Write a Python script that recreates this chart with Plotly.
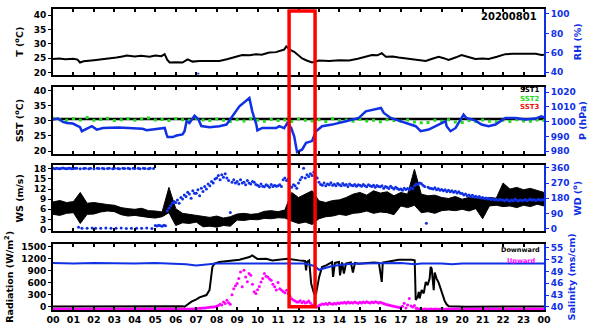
import numpy as np
import plotly.graph_objects as go

# ---------------- data ----------------
hour_labels = ["%02d" % h for h in range(24)] + ["00"]

# air temperature (deg C)
t_hour = [0.00, 0.30, 0.60, 1.00, 1.20, 1.32, 1.50, 1.66, 2.00, 2.40, 2.78, 3.10, 3.40, 3.60,
          4.00, 4.30, 4.72, 5.00, 5.30, 5.46, 5.58, 5.70, 6.00, 6.33, 6.58, 6.82, 7.16, 7.60,
          8.13, 8.50, 8.90, 9.25, 9.60, 9.94, 10.20, 10.57, 10.90, 11.15, 11.30, 11.40, 11.60,
          11.79, 12.00, 12.18, 12.40, 12.66, 13.00, 13.50, 14.00, 14.47, 14.90, 15.30, 15.59,
          15.85, 16.07, 16.27, 16.60, 16.90, 17.40, 17.88, 18.22, 18.50, 18.85, 19.10, 19.34,
          19.70, 19.97, 20.30, 20.65, 21.00, 21.29, 21.70, 22.11, 22.50, 23.00, 23.38, 23.60,
          23.87, 24.00]
air_temp = [24.7, 24.9, 24.6, 24.8, 24.5, 23.5, 23.9, 24.1, 24.3, 24.6, 24.8, 25.2, 25.6, 25.9,
            25.6, 25.8, 25.5, 25.9, 25.7, 26.4, 24.5, 23.5, 23.6, 23.5, 24.6, 23.8, 24.0, 23.9,
            24.0, 24.6, 25.4, 26.1, 26.0, 26.4, 26.2, 27.0, 27.1, 27.6, 28.0, 29.1, 27.9,
            27.2, 26.0, 24.9, 24.2, 23.5, 24.2, 24.0, 24.3, 24.2, 24.8, 25.4, 26.1,
            26.0, 26.7, 25.5, 25.6, 25.2, 24.8, 24.4, 24.0, 24.7, 25.5, 25.0, 24.4,
            25.3, 26.1, 25.4, 24.7, 24.9, 24.7, 25.5, 26.4, 26.5, 26.6, 26.7, 26.5,
            26.1, 26.2]

# relative humidity (%), only a single reading survives
rh_hour = [7.05, 7.15]
rel_hum = [38.5, 38.5]

# sea surface temperature (deg C)
sst1 = [30.6, 30.6, 30.6, 30.7, 30.6, 30.6, 30.6, 30.6, 30.6, 30.7, 30.6, 30.6, 30.6,
        30.6, 30.6, 30.6, 30.6, 30.6, 30.7, 30.6, 30.6, 30.6, 30.6, 30.6, 30.6]  # hourly
sst2 = [30.9, 30.4, 30.2, 30.8, 30.3, 31.1, 30.2, 30.5, 30.9, 30.1, 30.4, 30.8, 30.2, 30.6,
        31.0, 30.3, 30.5, 30.1, 30.8, 30.4, 30.2, 30.9, 30.3, 30.1, 30.6, 30.2, 29.8, 30.4,
        30.0, 30.7, 30.2, 29.9, 30.5, 30.1, 30.3, 29.8, 30.6, 30.2, 30.0, 30.4, 29.8, 30.7,
        30.1, 30.3, 29.9, 30.5, 30.0, 30.2, 29.7, 30.4, 30.1, 29.9, 30.3, 29.6, 29.4, 29.5,
        30.2, 29.9, 30.4, 29.6, 29.5, 30.1, 29.8, 30.3, 29.9, 29.7, 30.2, 29.8, 30.4, 30.0,
        29.9, 30.3, 30.1]  # every 20 min

# air pressure (hPa)
p_hour = [0.00, 0.24, 0.49, 0.68, 0.97, 1.32, 1.41, 1.56, 1.90, 2.14, 2.44, 3.20, 3.90, 4.38,
          4.58, 5.07, 5.46, 5.55, 5.60, 5.85, 6.04, 6.33, 6.43, 6.53, 6.67, 6.92, 7.11, 7.25,
          7.65, 8.13, 8.48, 8.77, 9.11, 9.60, 9.74, 9.94, 9.99, 10.23, 10.91, 11.06, 11.30,
          11.45, 11.64, 11.79, 11.93, 12.18, 12.37, 12.66, 12.86, 13.15, 13.64, 14.32, 14.95,
          15.29, 15.78, 16.03, 16.17, 16.51, 16.90, 17.73, 17.97, 18.36, 18.85, 19.19, 19.24,
          19.43, 19.68, 20.07, 20.21, 20.65, 20.95, 21.29, 21.63, 22.11, 22.60, 23.09, 23.58,
          23.87, 24.00]
pressure = [1001.5, 1002.1, 999.8, 999.1, 998.7, 996.2, 993.5, 994.6, 996.9, 994.6, 995.7,
            996.0, 995.7, 995.1, 994.2, 995.1, 995.7, 991.3, 989.5, 989.5, 990.6, 991.3,
            993.5, 1000.3, 999.1, 1004.1, 1001.5, 997.0, 996.2, 996.9, 998.0, 1003.6, 1010.4,
            1016.0, 1007.0, 998.0, 994.0, 995.7, 995.7, 996.9, 995.5, 999.1, 995.7, 990.1,
            979.3, 981.1, 985.6, 986.8, 993.5, 996.9, 998.0, 1000.3, 1002.5, 1007.0, 1008.2,
            1009.3, 1005.9, 1002.5, 1000.7, 996.9, 993.5, 994.6, 998.0, 1000.3, 996.9, 993.5,
            995.7, 1004.8, 1002.5, 1000.7, 998.0, 996.9, 998.0, 1002.5, 1002.5, 1001.4,
            1002.1, 1003.6, 1003.0]

# wind speed (m/s): lower / upper envelope every 20 min
ws_low = [4.5, 4.2, 4.8, 5.0, 1.8, 4.5, 4.6, 5.2, 5.5, 5.3, 4.4, 4.0, 4.2, 3.8, 3.6, 3.4, 3.8,
          5.0, 1.2, 2.0, 1.8, 2.2, 0.8, 1.0, 0.7, 1.2, 1.0, 2.8, 2.7, 3.0, 2.9, 3.3, 3.2, 3.5,
          3.4, 2.5, 1.8, 2.2, 1.5, 3.2, 3.8, 4.0, 4.5, 4.2, 4.8, 5.0, 5.5, 4.8, 5.2, 5.0, 4.4,
          7.0, 6.5, 7.2, 5.0, 5.3, 4.8, 5.6, 5.8, 5.6, 6.0, 5.5, 6.2, 3.2, 7.0, 7.2, 6.8, 7.0,
          6.5, 7.2, 6.8, 7.5, 7.0]
ws_high = [8.2, 8.6, 8.0, 8.3, 11.0, 7.8, 8.0, 7.6, 7.4, 7.2, 6.5, 6.2, 6.0, 6.3, 5.6, 5.5,
           5.2, 12.5, 6.2, 4.8, 4.5, 4.2, 3.8, 3.6, 4.0, 3.4, 3.8, 4.6, 4.8, 4.5, 4.7, 5.4,
           5.6, 5.3, 5.8, 11.0, 9.5, 10.5, 11.5, 8.5, 8.0, 8.6, 8.8, 9.5, 10.5, 11.0, 10.2,
           11.5, 10.8, 11.2, 10.0, 11.0, 10.5, 17.9, 10.5, 10.0, 10.2, 9.5, 9.2, 9.8, 9.0,
           9.5, 9.2, 9.0, 9.5, 9.3, 13.8, 12.0, 12.5, 11.8, 12.2, 11.5, 11.0]

# wind direction (deg), every 5 min, one row per hour
wind_dir = [
    358, 356, 359, 357, 355, 358, 360, 357, 356, 359, 358, 356,
    357, 359, 358, 8, 356, 2, 357, 359, 1, 356, 358, 3,
    356, 2, 359, 357, 1, 358, 355, 3, 357, 359, 2, 356,
    359, 1, 357, 356, 3, 358, 357, 0, 359, 356, 2, 358,
    357, 2, 358, 356, 1, 359, 357, 3, 356, 358, 0, 357,
    18, 15, 20, 17, 14, 19, 16, 105, 120, 135, 150, 160,
    155, 170, 150, 185, 175, 200, 190, 215, 205, 180, 225, 210,
    210, 230, 195, 240, 220, 250, 235, 265, 255, 280, 270, 295,
    300, 315, 290, 320, 305, 325, 300, 285, 96, 275, 290, 270,
    280, 265, 290, 270, 275, 260, 285, 270, 265, 280, 275, 262,
    258, 250, 265, 252, 248, 260, 255, 245, 262, 250, 258, 252,
    255, 260, 250, 290, 300, 285, 295, 250, 245, 260, 255, 240,
    270, 290, 305, 358, 300, 320, 310, 325, 315, 335, 310, 300,
    275, 262, 258, 270, 255, 265, 260, 272, 258, 263, 255, 268,
    260, 255, 268, 258, 262, 250, 265, 258, 255, 262, 252, 260,
    258, 252, 262, 255, 248, 260, 254, 250, 258, 245, 256, 250,
    248, 255, 240, 250, 245, 238, 252, 242, 235, 245, 238, 232,
    235, 228, 240, 232, 238, 230, 242, 236, 255, 265, 262, 270,
    268, 258, 250, 31, 245, 240, 238, 235, 242, 230, 236, 228,
    232, 225, 230, 220, 228, 218, 225, 215, 222, 212, 218, 210,
    208, 200, 205, 195, 200, 190, 198, 188, 192, 185, 190, 182,
    185, 178, 182, 175, 180, 172, 176, 170, 174, 168, 172, 170,
    170, 165, 172, 168, 162, 170, 165, 175, 168, 163, 170, 166,
    168, 172, 165, 170, 175, 168, 172, 166, 170, 174, 168, 172,
    170]

# downward shortwave radiation (W/m2)
down_hour = [0.00, 1.00, 2.00, 3.00, 4.00, 5.00, 6.00, 6.33, 6.43, 6.77, 7.01, 7.16, 7.50,
             7.65, 7.79, 7.89, 8.13, 8.77, 9.11, 9.60, 9.74, 9.99, 10.42, 10.72, 11.06,
             11.45, 12.03, 12.32, 12.37, 12.42, 12.52, 12.62, 12.76, 12.86, 13.01, 13.15,
             13.35, 13.64, 13.69, 13.78, 13.98, 14.03, 14.13, 14.22, 14.32, 14.56, 14.66,
             14.76, 14.95, 15.29, 15.68, 15.93, 16.07, 16.12, 16.27, 16.90, 17.54, 17.68,
             17.73, 17.83, 17.88, 17.92, 18.02, 18.12, 18.22, 18.31, 18.41, 18.46, 18.51,
             18.61, 18.66, 18.75, 18.85, 18.95, 19.04, 19.14, 19.24, 19.34, 20.17, 21.00,
             22.00, 23.00, 24.00]
down_rad = [5, 8, 4, 10, 6, 8, 5, 10, 0, 124, 183, 232, 290,
            413, 988, 1072, 1111, 1153, 1170, 1235, 1277, 1190, 1195, 1153, 1175,
            1195, 1153, 1140, 906, 1120, 1153, 578, 331, 331, 741, 988,
            1030, 1111, 741, 1090, 1111, 780, 1100, 823, 1072, 1100, 850,
            1090, 1072, 1090, 1100, 1090, 618, 1100, 1111, 1170, 1170, 1153,
            166, 250, 371, 207, 413, 330, 618, 536, 700, 990, 950,
            413, 850, 700, 600, 450, 300, 150, 60, 10, 0, 5,
            3, 6, 4]

# upward shortwave radiation (W/m2), every 5 min, one row per hour
up_rad = [
    -58, -61, -60, -62, -59, -60, -61, -58, -60, -62, -59, -61,
    -60, -59, -61, -60, -62, -58, -60, -61, -59, -60, -62, -60,
    -61, -60, -58, -60, -61, -59, -62, -60, -60, -61, -58, -60,
    -60, -62, -59, -61, -60, -58, -60, -61, -62, -59, -60, -61,
    -59, -60, -61, -60, -58, -62, -60, -59, -61, -60, -60, -62,
    -60, -61, -59, -60, -62, -60, -58, -61, -60, -59, -61, -60,
    -61, -60, -62, -59, -60, -61, -58, -60, -59, -57, -55, -52,
    -50, -45, -40, -38, -30, -35, -25, -20, -15, -10, -5, 0,
    10, 30, 60, 45, 120, 80, 160, 100, 60, 300, 450, 520,
    580, 700, 866, 495, 908, 741, 620, 825, 780, 560, 371, 331,
    420, 500, 618, 700, 825, 760, 741, 690, 660, 560, 495, 413,
    600, 450, 413, 380, 350, 410, 330, 260, 200, 165, 140, 120,
    120, 150, 100, 130, 90, 110, 140, 95, 40, 10, 0, -10,
    30, 50, 70, 60, 80, 55, 90, 75, 60, 85, 70, 95,
    80, 100, 90, 110, 85, 120, 95, 105, 90, 115, 100, 85,
    110, 95, 120, 100, 124, 105, 90, 115, 100, 125, 110, 95,
    110, 95, 80, 60, 50, 40, 30, 20, 10, 0, -10, -20,
    -20, 10, 84, -30, 40, 207, 20, -10, 30, -40, -50, -60,
    -60, -61, -59, -60, -62, -60, -58, -61, -60, -59, -61, -60,
    -61, -60, -62, -59, -60, -61, -58, -60, -59, -60, -62, -60,
    -60, -59, -61, -60, -62, -58, -60, -61, -59, -60, -62, -60,
    -61, -60, -58, -60, -61, -59, -62, -60, -60, -61, -58, -60,
    -60, -62, -59, -61, -60, -58, -60, -61, -62, -59, -60, -61,
    -59, -60, -61, -60, -58, -62, -60, -59, -61, -60, -60, -62,
    -60]

# salinity (ms/cm)
sal_hour = [0, 1, 2, 3, 4, 5, 6, 6.5, 7.0, 7.5, 8.0, 9, 10, 11, 11.5, 12, 12.3, 12.6, 12.8,
            13.0, 13.3, 13.6, 14.0, 14.3, 15, 16, 17, 17.7, 18, 19, 19.5, 20, 21, 22, 23, 24]
salinity = [51.1, 51.0, 51.1, 51.0, 51.0, 51.1, 50.9, 50.8, 50.5, 50.7, 51.0, 51.0, 51.0,
            51.0, 51.1, 51.1, 51.0, 50.6, 50.3, 49.4, 49.8, 50.3, 50.6, 50.8, 51.0, 51.0,
            51.1, 50.8, 51.0, 51.0, 50.8, 51.0, 51.0, 51.0, 51.0, 51.0]

# highlighted interval (hours)
box_start, box_end = 11.54, 12.81

# ---------------- styling ----------------
BLUE = "#1030e6"
GREEN = "#22dd22"
MAGENTA = "#ff00ff"
FONT = "DejaVu Sans"

t20 = np.arange(len(sst2)) / 3.0
t_ws = np.arange(len(ws_low)) / 3.0
t5 = np.arange(len(wind_dir)) / 12.0
t5u = np.arange(len(up_rad)) / 12.0
t_sst1 = np.arange(len(sst1))

fig = go.Figure()

# panel 1
fig.add_trace(go.Scatter(x=t_hour, y=air_temp, xaxis="x", yaxis="y", mode="lines",
                         line=dict(color="black", width=2)))
fig.add_trace(go.Scatter(x=rh_hour, y=rel_hum, xaxis="x", yaxis="y2", mode="lines",
                         line=dict(color=BLUE, width=2)))
# panel 2
fig.add_trace(go.Scatter(x=t_sst1, y=sst1, xaxis="x2", yaxis="y3", mode="lines",
                         line=dict(color="black", width=2.5)))
fig.add_trace(go.Scatter(x=t20, y=sst2, xaxis="x2", yaxis="y3", mode="markers",
                         marker=dict(color=GREEN, size=3, symbol="square")))
fig.add_trace(go.Scatter(x=p_hour, y=pressure, xaxis="x2", yaxis="y4", mode="lines",
                         line=dict(color=BLUE, width=2.5)))
# panel 3
fig.add_trace(go.Scatter(x=t_ws, y=ws_low, xaxis="x3", yaxis="y5", mode="lines",
                         line=dict(color="black", width=1)))
fig.add_trace(go.Scatter(x=t_ws, y=ws_high, xaxis="x3", yaxis="y5", mode="lines",
                         line=dict(color="black", width=1), fill="tonexty",
                         fillcolor="black"))
fig.add_trace(go.Scatter(x=t5, y=wind_dir, xaxis="x3", yaxis="y6", mode="markers",
                         marker=dict(color=BLUE, size=3)))
# panel 4
fig.add_trace(go.Scatter(x=down_hour, y=down_rad, xaxis="x4", yaxis="y7", mode="lines",
                         line=dict(color="black", width=2)))
fig.add_trace(go.Scatter(x=t5u, y=up_rad, xaxis="x4", yaxis="y7", mode="markers",
                         marker=dict(color=MAGENTA, size=3)))
fig.add_trace(go.Scatter(x=sal_hour, y=salinity, xaxis="x4", yaxis="y8", mode="lines",
                         line=dict(color=BLUE, width=2)))

tick_font_k = dict(family=FONT, size=9, color="black", weight="bold")
tick_font_b = dict(family=FONT, size=9, color=BLUE, weight="bold")


def xaxis(anchor, labels):
    return dict(anchor=anchor, domain=[0, 1], range=[0, 24], tickmode="array",
                tickvals=list(range(25)), ticktext=hour_labels, showticklabels=labels,
                ticks="inside", ticklen=3, tickwidth=1.5, tickcolor="black",
                showline=True, linewidth=2, linecolor="black", mirror="ticks",
                showgrid=False, zeroline=False,
                tickfont=dict(family=FONT, size=9.5, color="black", weight="bold"))


def ytitle(text, color, standoff):
    return dict(text=text, standoff=standoff,
                font=dict(family=FONT, size=9.5, color=color, weight="bold"))


def yleft(domain, rng, vals, anchor, title, standoff):
    return dict(domain=domain, range=rng, tickvals=vals, anchor=anchor, side="left",
                showline=True, linewidth=2, linecolor="black", ticks="outside",
                ticklen=3, tickcolor="black", showgrid=False, zeroline=False,
                tickfont=tick_font_k, title=ytitle(title, "black", standoff))


def yright(over, rng, vals, anchor, title, standoff):
    return dict(overlaying=over, range=rng, tickvals=vals, anchor=anchor, side="right",
                showline=True, linewidth=2, linecolor=BLUE, ticks="outside",
                ticklen=3, tickcolor=BLUE, showgrid=False, zeroline=False,
                tickfont=tick_font_b, title=ytitle(title, BLUE, standoff))


d1, d2, d3, d4 = [0.7822, 1.0], [0.5191, 0.7393], [0.2617, 0.4802], [0.0, 0.2201]

fig.update_layout(
    width=600, height=334, autosize=False, showlegend=False,
    margin=dict(l=53, r=56, t=7, b=24),
    paper_bgcolor="white", plot_bgcolor="white",
    xaxis=xaxis("y", False), xaxis2=xaxis("y3", False),
    xaxis3=xaxis("y5", False), xaxis4=xaxis("y7", True),
    yaxis=yleft(d1, [19.3, 42.1], [20, 25, 30, 35, 40], "x",
                "T (<sup>o</sup>C)", 8),
    yaxis2=yright("y", [37.7, 105], [40, 60, 80, 100], "x", "RH (%)", 6),
    yaxis3=yleft(d2, [19.1, 41.1], [20, 25, 30, 35, 40], "x2",
                 "SST (<sup>o</sup>C)", 8),
    yaxis4=yright("y3", [978.2, 1023.2], [980, 990, 1000, 1010, 1020], "x2",
                  "P (hPa)", 4),
    yaxis5=yleft(d3, [-0.5, 19], [0, 3, 6, 9, 12, 15, 18], "x3", "WS (m/s)", 8),
    yaxis6=yright("y5", [-16, 375], [0, 90, 180, 270, 360], "x3",
                  "WD (<sup>o</sup>)", 6),
    yaxis7=yleft(d4, [-82, 1567], [0, 300, 600, 900, 1200, 1500], "x4",
                 "Radiation (W/m<sup>2</sup>)", 6),
    yaxis8=yright("y7", [39.2, 56], [40, 43, 46, 49, 52, 55], "x4",
                  "Salinity (ms/cm)", 6),
)

ann = []


def label(text, x, y, color, size, xanchor):
    ann.append(dict(text=text, x=x, y=y, xref="paper", yref="paper", showarrow=False,
                    xanchor=xanchor, yanchor="middle",
                    font=dict(family=FONT, size=size, color=color, weight="bold")))


label("20200801", 0.9287, 0.9736, "black", 10, "center")
label("SST1", 0.996, 0.7294, "black", 7, "right")
label("SST2", 0.996, 0.6997, GREEN, 7, "right")
label("SST3", 0.996, 0.6733, "#ee1111", 7, "right")
label("Downward", 0.996, 0.198, "black", 6.5, "right")
label("Upward", 0.9206, 0.1617, MAGENTA, 6.5, "left")

fig.update_layout(
    annotations=ann,
    shapes=[dict(type="rect", xref="x4", yref="paper", x0=box_start, x1=box_end,
                 y0=0.0109, y1=0.9934, line=dict(color="#ff0000", width=3.5),
                 fillcolor="rgba(0,0,0,0)", layer="above")],
)

fig.write_html("out.html")
